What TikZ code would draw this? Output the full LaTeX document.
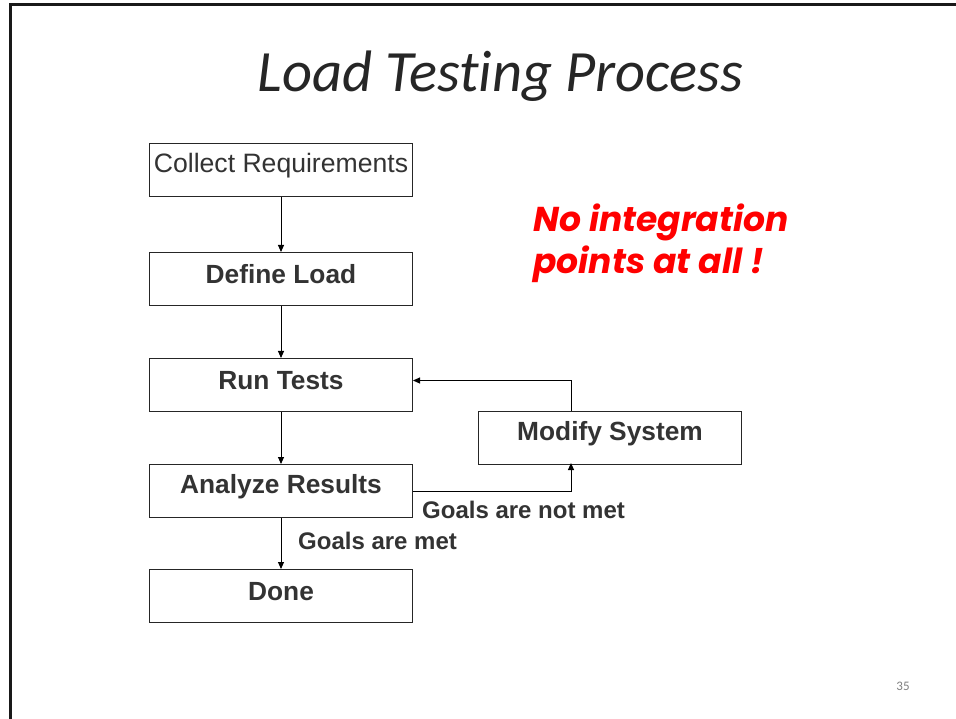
\documentclass[tikz,border=0pt]{standalone}
\usepackage{fontspec}
\setmainfont{Liberation Sans}
\newfontfamily\titlefont[Ligatures={NoCommon,NoContextual}]{Carlito}
\newfontfamily\redfont{Poppins}
\usetikzlibrary{arrows.meta}
\definecolor{txt}{HTML}{333333}
\definecolor{ttl}{HTML}{262626}
\definecolor{pg}{HTML}{808080}
\tikzset{
  stepbox/.style={draw=black!85, line width=1pt, minimum width=263pt, minimum height=53pt, inner sep=0pt, anchor=north west},
  steptext/.style={font=\bfseries\fontsize{26.3}{30}\selectfont, text=txt, inner sep=0pt},
  conn/.style={draw=black, line width=0.9pt, -{Triangle[length=7pt,width=6pt]}},
  lbl/.style={font=\bfseries\fontsize{24}{28}\selectfont, text=txt, inner sep=0pt}
}
\begin{document}
\begin{tikzpicture}[x=1pt,y=-1pt]
\useasboundingbox (0,0) rectangle (956,719);
\fill[white] (0,0) rectangle (956,719);
\draw[line width=2.5pt, black!90] (10.5,719) -- (10.5,4.5) -- (956,4.5);
\node[font=\titlefont\itshape\fontsize{58.5}{66}\selectfont, text=ttl, anchor=base, inner sep=0pt] (title) at (500.5,92) {Load Testing Process};
\node[stepbox] (collect) at (149,143) {};
\node[stepbox] (define) at (149,252) {};
\node[stepbox] (run) at (149,358) {};
\node[stepbox] (analyze) at (149,464) {};
\node[stepbox] (done) at (149,569) {};
\node[stepbox] (modify) at (478,411) {};
\node[steptext, font=\fontsize{26.6}{30}\selectfont] (collectt) at ([yshift=4.5pt]collect.center) {Collect Requirements};
\node[steptext] (definet) at ([yshift=4.5pt]define.center) {Define Load};
\node[steptext] (runt) at ([yshift=4.5pt]run.center) {Run Tests};
\node[steptext] (analyzet) at ([yshift=4.5pt]analyze.center) {Analyze Results};
\node[steptext] (donet) at ([yshift=4.5pt]done.center) {Done};
\node[steptext] (modifyt) at ([yshift=4.5pt]modify.center) {Modify System};
\coordinate (mtop) at (571,411);
\coordinate (mbot) at (571,463);
\draw[conn] (collect.south) -- (define.north);
\draw[conn] (define.south) -- (run.north);
\draw[conn] (run.south) -- (analyze.north);
\draw[conn] (analyze.south) -- (done.north);
\draw[conn] (mtop) |- ([yshift=4.5pt]run.east);
\draw[conn] (analyze.east) -| (mbot);
\node[lbl, anchor=west] (notmet) at (422,510) {Goals are not met};
\node[lbl, anchor=west] (met) at (298,541) {Goals are met};
\node[font=\redfont\bfseries\itshape\fontsize{34.5}{42}\selectfont, text=red, align=left, anchor=base west, inner sep=0pt] (note) at (533,274) {No integration\\points at all !};
\node[font=\titlefont\fontsize{13}{15}\selectfont, text=pg] (page) at (903,686) {35};
\end{tikzpicture}
\end{document}
